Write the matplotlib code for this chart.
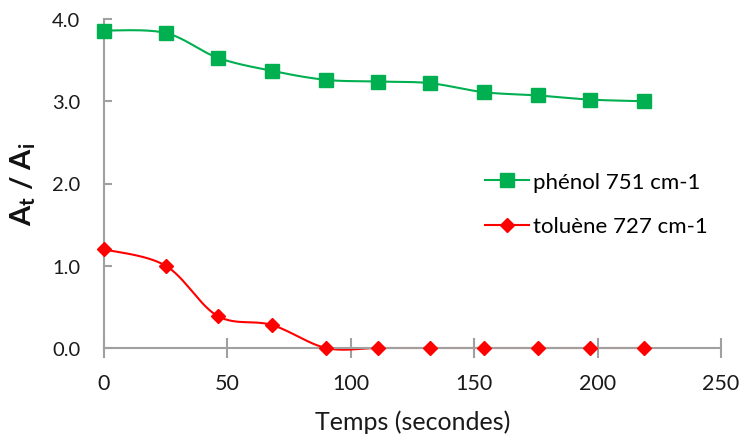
import numpy as np
import matplotlib
matplotlib.use('Agg')
import matplotlib.pyplot as plt

# data
temps = [0, 25, 46, 68, 90, 111, 132, 154, 176, 197, 219]
phenol = [3.86, 3.83, 3.53, 3.37, 3.26, 3.24, 3.22, 3.11, 3.07, 3.02, 3.00]
toluene = [1.20, 1.00, 0.39, 0.28, 0.00, 0.00, 0.00, 0.00, 0.00, 0.00, 0.00]

plt.rcParams['font.family'] = ['Lato', 'DejaVu Sans']


def smooth(x, y, n=30):
    # Excel-like smoothed line: cubic Bezier with Catmull-Rom control points
    x = np.asarray(x, float)
    y = np.asarray(y, float)
    px = np.concatenate([[x[0]], x, [x[-1]]])
    py = np.concatenate([[y[0]], y, [y[-1]]])
    xs, ys = [], []
    t = np.linspace(0, 1, n)
    for i in range(1, len(x)):
        p0 = np.array([px[i], py[i]])
        p3 = np.array([px[i + 1], py[i + 1]])
        p1 = p0 + (p3 - np.array([px[i - 1], py[i - 1]])) / 6
        p2 = p3 - (np.array([px[i + 2], py[i + 2]]) - p0) / 6
        b = ((1 - t) ** 3)[:, None] * p0 + (3 * (1 - t) ** 2 * t)[:, None] * p1 \
            + (3 * (1 - t) * t ** 2)[:, None] * p2 + (t ** 3)[:, None] * p3
        xs.extend(b[:, 0])
        ys.extend(b[:, 1])
    return xs, ys


fig = plt.figure(figsize=(7.44, 4.39), dpi=100)
ax = fig.add_axes([104 / 744, 1 - 349 / 439, 617 / 744, 329 / 439])

green = '#00b050'
red = '#ff0000'

sx, sy = smooth(temps, phenol)
ax.plot(sx, sy, color=green, lw=1.5, clip_on=False)
ax.plot(temps, phenol, ls='none', marker='s', ms=9.5, color=green, clip_on=False, zorder=3)
sx, sy = smooth(temps, toluene)
ax.plot(sx, sy, color=red, lw=1.5, clip_on=False)
ax.plot(temps, toluene, ls='none', marker='D', ms=7.5, color=red, clip_on=False, zorder=3)

# legend proxies
ax.plot([], [], color=green, lw=1.5, marker='s', ms=9.5, label='phénol 751 cm-1')
ax.plot([], [], color=red, lw=1.5, marker='D', ms=7.5, label='toluène 727 cm-1')
ax.legend(loc='upper left', bbox_to_anchor=(0.585, 0.596), frameon=False, fontsize=16,
          labelspacing=1.1, handlelength=2.0, handletextpad=0.15)

ax.set_xlim(0, 250)
ax.set_ylim(0, 4.0)
ax.set_xticks([0, 50, 100, 150, 200, 250])
ax.set_yticks([0, 1, 2, 3, 4])
ax.set_yticklabels(['0.0', '1.0', '2.0', '3.0', '4.0'])

gray = '#a0a0a0'
for s in ['top', 'right']:
    ax.spines[s].set_visible(False)
for s in ['left', 'bottom']:
    ax.spines[s].set_color(gray)
    ax.spines[s].set_linewidth(1.5)
ax.tick_params(axis='x', direction='inout', length=14, width=1.5, color=gray,
               labelsize=15.5, pad=11, labelcolor='#1a1a1a')
ax.tick_params(axis='y', direction='in', length=6, width=1.5, color=gray,
               labelsize=14.5, pad=17, labelcolor='#1a1a1a')

ax.set_xlabel('Temps (secondes)', fontsize=18, color='#1a1a1a', labelpad=12)
ax.set_ylabel(r'A$_{\mathregular{t}}$ / A$_{\mathregular{i}}$', fontsize=21, fontweight='bold',
              color='#111111', labelpad=10)

fig.savefig('out.png', dpi=100)
